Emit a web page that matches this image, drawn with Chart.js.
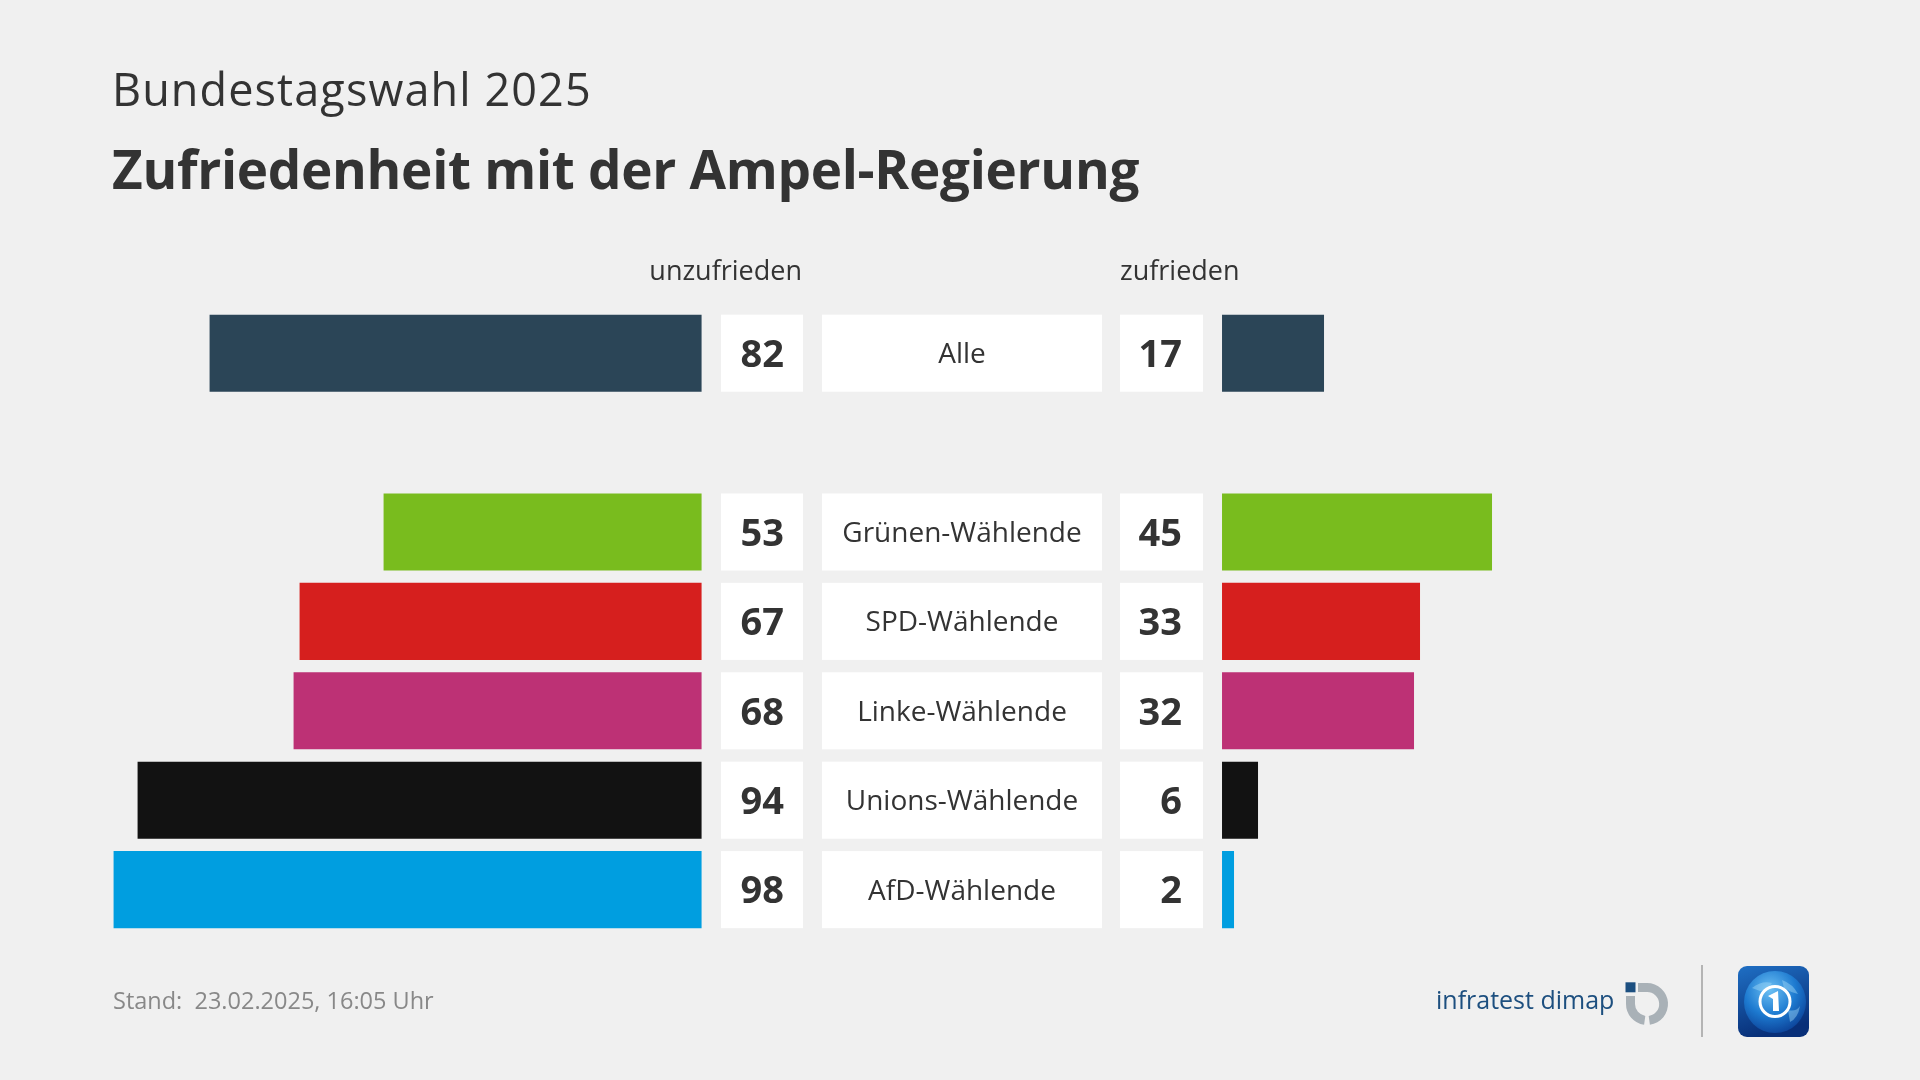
<!DOCTYPE html>
<html lang="de">
<head>
<meta charset="utf-8">
<script src="https://cdn.jsdelivr.net/npm/chart.js@4"></script>
<style>
  html, body { margin:0; padding:0; background:#f0f0f0; width:1920px; height:1080px; overflow:hidden; font-family:"Open Sans", sans-serif; }
  #wrap { position:relative; width:1920px; height:1080px; }
  canvas#c { position:absolute; left:0; top:0; }
  .t { position:absolute; line-height:1; white-space:nowrap; color:#333; }
  #sub { left:112px; top:65.5px; font-size:45px; font-weight:400; letter-spacing:1.1px; }
  #title { left:112px; top:142px; font-size:53px; font-weight:700; letter-spacing:-0.3px; }
  #hl { right:1118px; top:256px; font-size:27px; }
  #hr { left:1120px; top:256px; font-size:27px; }
  #foot { left:113px; top:989px; font-size:23.5px; color:#888; }
  #infra { left:1436px; top:986.5px; font-size:25px; color:#1d4f7f; }
  #sep { position:absolute; left:1701px; top:965px; width:2px; height:72px; background:#b4b4b4; }
  svg { position:absolute; }
</style>
</head>
<body>
<div id="wrap">
  <canvas id="c" width="1920" height="1080"></canvas>
  <div class="t" id="sub">Bundestagswahl 2025</div>
  <div class="t" id="title">Zufriedenheit mit der Ampel-Regierung</div>
  <div class="t" id="hl">unzufrieden</div>
  <div class="t" id="hr">zufrieden</div>
  <div class="t" id="foot">Stand:&nbsp; 23.02.2025, 16:05 Uhr</div>
  <div class="t" id="infra">infratest dimap</div>
  <svg style="left:1620px;top:980px" width="52" height="48" viewBox="0 0 52 48">
    <rect x="5.5" y="2.3" width="10" height="10" fill="#1c4f80"/>
    <path d="M18 3 H27 A21 21 0 0 1 29.9 44.8 L28.7 35.9 A12 12 0 0 0 27 12 H18 Z" fill="#a9b1b7"/>
    <path d="M6 16 H15 V24 A12 12 0 0 0 25.3 35.9 L24.1 44.8 A21 21 0 0 1 6 24 Z" fill="#a9b1b7"/>
  </svg>
  <div id="sep"></div>
  <svg style="left:1738px;top:966px" width="71" height="71" viewBox="0 0 71 71">
    <defs>
      <linearGradient id="g1" x1="0" y1="0" x2="0.3" y2="1">
        <stop offset="0" stop-color="#1f6fc4"/>
        <stop offset="1" stop-color="#082f78"/>
      </linearGradient>
      <radialGradient id="g2" cx="0.42" cy="0.3" r="0.75">
        <stop offset="0" stop-color="#6cc0f4"/>
        <stop offset="0.55" stop-color="#1d7ad0"/>
        <stop offset="1" stop-color="#0b3f95"/>
      </radialGradient>
      <clipPath id="cp"><rect x="0" y="0" width="71" height="71" rx="9"/></clipPath>
    </defs>
    <rect x="0" y="0" width="71" height="71" rx="9" fill="url(#g1)"/>
    <g clip-path="url(#cp)">
      <circle cx="37" cy="36" r="31" fill="url(#g2)"/>
      <path d="M14 22 Q24 14 34 17 Q30 24 22 25 Z M44 14 Q55 18 60 28 Q52 26 46 22 Z M50 44 Q58 46 62 40 Q60 52 52 56 Z" fill="#9fd6f7" opacity="0.45"/>
    </g>
    <circle cx="37" cy="35.5" r="15" fill="none" stroke="#fff" stroke-width="3"/>
    <path d="M30 30 L40 25 L41 45 L35 45 L35 33 Z" fill="#fff"/>
  </svg>
</div>
<script>
const categories = ['Alle', '', 'Grünen-Wählende', 'SPD-Wählende', 'Linke-Wählende', 'Unions-Wählende', 'AfD-Wählende'];
const unzufrieden = [82, null, 53, 67, 68, 94, 98];
const zufrieden = [17, null, 45, 33, 32, 6, 2];
const groupColors = ['#2b4557', '#f0f0f0', '#79bc1e', '#d61f1e', '#bd3175', '#121212', '#009ee0'];

const boxesPlugin = {
  id: 'boxes',
  afterDatasetsDraw(chart) {
    const ctx = chart.ctx;
    const meta = chart.getDatasetMeta(0);
    ctx.save();
    categories.forEach((cat, i) => {
      if (!cat) return;
      const el = meta.data[i];
      const h = el.height;
      const top = el.y - h / 2;
      ctx.fillStyle = '#ffffff';
      ctx.fillRect(721, top, 82, h);
      ctx.fillRect(822, top, 280, h);
      ctx.fillRect(1120, top, 83, h);
      ctx.fillStyle = '#333333';
      ctx.textBaseline = 'middle';
      ctx.font = '700 38px "Open Sans"';
      ctx.textAlign = 'right';
      ctx.fillText(String(unzufrieden[i]), 784, el.y + 3);
      ctx.fillText(String(zufrieden[i]), 1182, el.y + 3);
      ctx.font = '400 28px "Open Sans"';
      ctx.textAlign = 'center';
      ctx.fillText(cat, 962, el.y + 2);
    });
    ctx.restore();
  }
};

function build() {
  new Chart(document.getElementById('c'), {
    type: 'bar',
    data: {
      labels: categories,
      datasets: [
        { label: 'unzufrieden', data: unzufrieden, xAxisID: 'xL', yAxisID: 'y',
          backgroundColor: groupColors, borderWidth: 0, grouped: false,
          barPercentage: 0.862, categoryPercentage: 1.0 },
        { label: 'zufrieden', data: zufrieden, xAxisID: 'xR', yAxisID: 'y',
          backgroundColor: groupColors, borderWidth: 0, grouped: false,
          barPercentage: 0.862, categoryPercentage: 1.0 }
      ]
    },
    options: {
      indexAxis: 'y',
      responsive: false,
      animation: false,
      devicePixelRatio: 1,
      layout: { padding: { top: 308.5, bottom: 145.7, left: 0, right: 0 } },
      plugins: { legend: { display: false }, tooltip: { enabled: false } },
      scales: {
        y: { type: 'category', display: false, offset: true },
        xL: { type: 'linear', axis: 'x', display: false, reverse: true, min: -203.07, max: 116.93 },
        xR: { type: 'linear', axis: 'x', display: false, min: -203.67, max: 116.33 }
      }
    },
    plugins: [boxesPlugin]
  });
}
Promise.all([
  document.fonts.load('400 28px "Open Sans"'),
  document.fonts.load('700 38px "Open Sans"')
]).then(build, build);
</script>
</body>
</html>
